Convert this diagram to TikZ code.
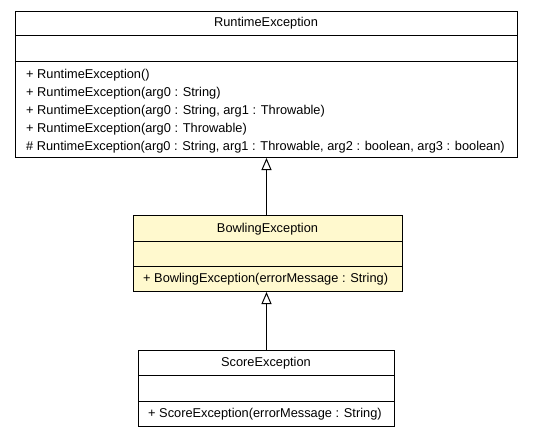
\documentclass[tikz,border=0pt]{standalone}
\usepackage{fontspec}
\setmainfont{Liberation Sans}
\usetikzlibrary{arrows.meta}
\definecolor{lemon}{HTML}{FFF9CE}
\begin{document}
\begin{tikzpicture}[x=1pt,y=-1pt,
  box/.style={draw=black, line width=1pt, anchor=north west, inner sep=0pt},
  title/.style={inner sep=0pt, anchor=base, font=\fontsize{12.8pt}{15pt}\selectfont},
  member/.style={inner sep=0pt, anchor=base west, font=\fontsize{12.8pt}{15pt}\selectfont},
  sep/.style={line width=1pt},
  gen/.style={line width=1pt, -{Triangle[open,length=12pt,width=10pt,line width=1pt]}}]
\useasboundingbox (0,0) rectangle (533,436);
% RuntimeException
\node[box, minimum width=502pt, minimum height=146pt] (rt) at (15,11) {};
\draw[sep] ([yshift=-25pt]rt.north west) -- ([yshift=-25pt]rt.north east);
\draw[sep] ([yshift=-51pt]rt.north west) -- ([yshift=-51pt]rt.north east);
\node[title] (rtT) at (266,27) {RuntimeException};
\node[member] (rtM1) at (26,78) {+ RuntimeException()};
\node[member] (rtM2) at (26,96) {+ RuntimeException(arg0 : String)};
\node[member] (rtM3) at (26,114) {+ RuntimeException(arg0 : String, arg1 : Throwable)};
\node[member] (rtM4) at (26,132) {+ RuntimeException(arg0 : Throwable)};
\node[member] (rtM5) at (26,150) {\# RuntimeException(arg0 : String, arg1 : Throwable, arg2 : boolean, arg3 : boolean)};
% BowlingException
\node[box, fill=lemon, minimum width=269pt, minimum height=76pt] (bw) at (133,215) {};
\draw[sep] ([yshift=-26pt]bw.north west) -- ([yshift=-26pt]bw.north east);
\draw[sep] ([yshift=-51pt]bw.north west) -- ([yshift=-51pt]bw.north east);
\node[title] (bwT) at (267.5,232) {BowlingException};
\node[member] (bwM1) at (143,282) {+ BowlingException(errorMessage : String)};
% ScoreException
\node[box, minimum width=256pt, minimum height=76pt] (sc) at (138,350) {};
\draw[sep] ([yshift=-25pt]sc.north west) -- ([yshift=-25pt]sc.north east);
\draw[sep] ([yshift=-51pt]sc.north west) -- ([yshift=-51pt]sc.north east);
\node[title] (scT) at (266,366) {ScoreException};
\node[member] (scM1) at (148,417) {+ ScoreException(errorMessage : String)};
% generalizations
\draw[gen] (bw.north -| 266.5,0) -- (rt.south -| 266.5,0);
\draw[gen] (sc.north -| 266.5,0) -- (bw.south -| 266.5,0);
\end{tikzpicture}
\end{document}
